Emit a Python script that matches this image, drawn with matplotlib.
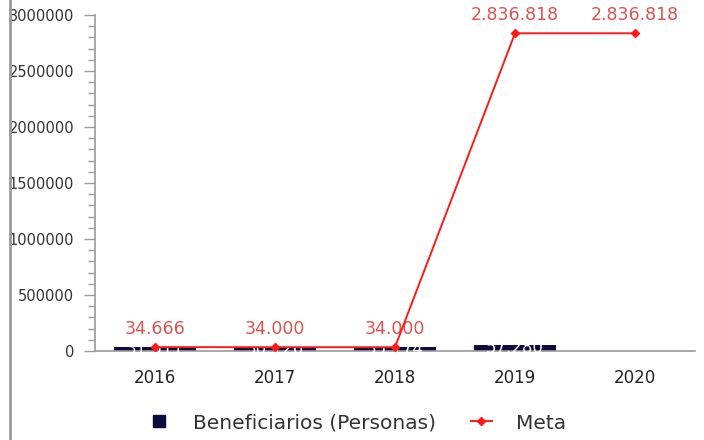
import numpy as np
import matplotlib
matplotlib.use("Agg")
from matplotlib import pyplot as plt
from matplotlib.lines import Line2D
from matplotlib.patches import Rectangle
from matplotlib.ticker import MultipleLocator, FuncFormatter

plt.rcParams["font.family"] = ["DejaVu Sans"]

years = ["2016", "2017", "2018", "2019", "2020"]
beneficiarios = [31511, 30126, 35174, 57280, 0]
meta = [34666, 34000, 34000, 2836818, 2836818]

navy = "#0c0c3e"
red = "#ff1a1a"
label_red = "#d9534f"
gray = "#9a9a9a"

def miles(v):
    return f"{v:,}".replace(",", ".")

fig = plt.figure(figsize=(7.04, 4.4), dpi=100)
ax = fig.add_axes([95/704, 89/440, 600/704, 336/440])

x = np.arange(len(years))
bars = ax.bar(x, beneficiarios, width=0.68, color=navy, zorder=2)
for b, v in zip(bars, beneficiarios):
    if v > 0:
        t = ax.text(b.get_x() + b.get_width()/2, v/2, miles(v), color="white",
                    ha="center", va="center", fontsize=12, zorder=3)
        t.set_clip_path(b)

ax.plot(x, meta, color=red, lw=1.4, marker="D", ms=4.5, zorder=4)
for xi, v in zip(x, meta):
    ax.annotate(miles(v), (xi, v), xytext=(0, 13), textcoords="offset points",
                ha="center", va="center", color=label_red, fontsize=12.5)

ax.set_xlim(-0.5, 4.5)
ax.set_ylim(0, 3000000)
ax.set_xticks(x)
ax.set_xticklabels(years)
ax.yaxis.set_major_locator(MultipleLocator(500000))
ax.yaxis.set_minor_locator(MultipleLocator(100000))
ax.yaxis.set_major_formatter(FuncFormatter(lambda v, p: f"{int(v)}"))
ax.tick_params(axis="x", length=0, pad=13, labelsize=12, labelcolor="#222222")
ax.tick_params(axis="y", which="major", length=8, width=1, color=gray, pad=7,
               labelsize=10.5, labelcolor="#333333")
ax.tick_params(axis="y", which="minor", length=5, width=1, color=gray)
for s in ["top", "right"]:
    ax.spines[s].set_visible(False)
for s in ["left", "bottom"]:
    ax.spines[s].set_color(gray)
    ax.spines[s].set_linewidth(1.2)

handles = [
    Line2D([], [], marker="s", color=navy, ls="none", ms=9),
    Line2D([], [], marker="D", color=red, lw=1.4, ms=4.5),
]
fig.legend(handles, ["Beneficiarios (Personas)", "Meta"], loc="center",
           bbox_to_anchor=(357/704, 1 - 423/440), ncol=2, frameon=False,
           fontsize=14.5, handlelength=1.05, columnspacing=1.7, handletextpad=1.2,
           labelcolor="#333333")

# left border of the container clips the y labels
fig.add_artist(Rectangle((0, 0), 10/704, 1, transform=fig.transFigure,
                         color="white", zorder=10))
fig.add_artist(Line2D([10/704, 10/704], [0, 1], transform=fig.transFigure,
                      color=gray, lw=2, zorder=11))

fig.savefig("out.png", dpi=100)
